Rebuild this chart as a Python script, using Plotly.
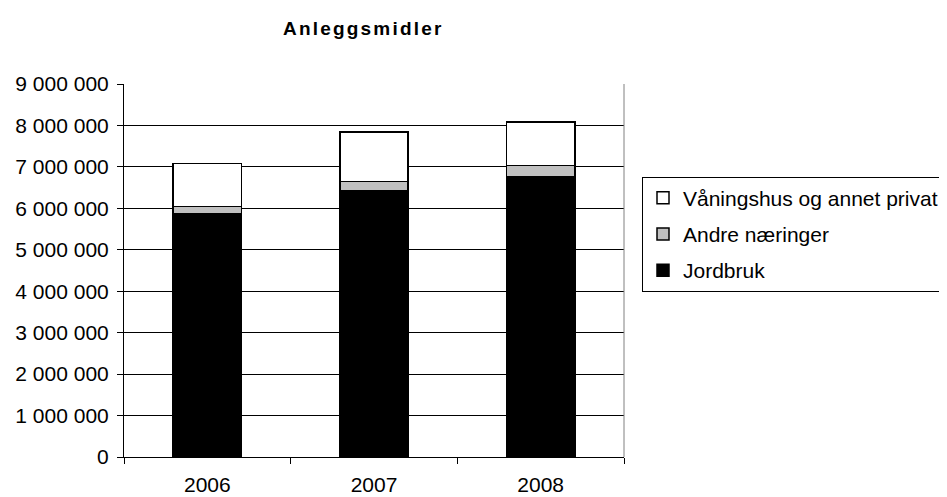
import plotly.graph_objects as go

years = ["2006", "2007", "2008"]
jordbruk = [5870000, 6420000, 6760000]
andre_naeringer = [180000, 230000, 270000]
vaningshus = [1030000, 1190000, 1050000]
y_ticks = [0, 1000000, 2000000, 3000000, 4000000, 5000000, 6000000, 7000000, 8000000, 9000000]

FONT = "Liberation Sans, Arial, sans-serif"

fig = go.Figure()
fig.add_trace(go.Bar(x=years, y=jordbruk, name="Jordbruk", legendgroup="c", legendrank=3,
                     marker=dict(color="#000000", line=dict(color="#000000", width=1.5))))
fig.add_trace(go.Bar(x=years, y=andre_naeringer, name="Andre næringer", legendgroup="b", legendrank=2,
                     marker=dict(color="#c0c0c0", line=dict(color="#000000", width=1.5))))
fig.add_trace(go.Bar(x=years, y=vaningshus, name="Våningshus og annet privat", legendgroup="a", legendrank=1,
                     marker=dict(color="#ffffff", line=dict(color="#000000", width=1.5))))

fig.update_layout(
    width=947, height=497,
    barmode="stack", bargap=0.59,
    paper_bgcolor="white", plot_bgcolor="white",
    separators=", ",
    font=dict(family=FONT, size=21, color="black"),
    margin=dict(l=116, r=331, t=76, b=48, autoexpand=False),
    showlegend=True,
    legend=dict(
        x=1.036, xanchor="left", y=0.752, yanchor="top",
        bordercolor="black", borderwidth=1, bgcolor="white",
        traceorder="grouped", tracegroupgap=6,
        font=dict(family=FONT, size=21, color="black"),
        itemwidth=30,
    ),
    xaxis=dict(
        showline=True, linecolor="black", linewidth=1,
        ticks="outside", ticklen=6, tickcolor="black", tickson="boundaries",
        showgrid=False, tickfont=dict(size=21), ticklabelstandoff=9,
    ),
    yaxis=dict(
        range=[0, 9000000], tickvals=y_ticks, tickformat=",d",
        showline=True, linecolor="black", linewidth=1,
        ticks="outside", ticklen=6, tickcolor="black",
        showgrid=True, gridcolor="black", gridwidth=1,
        zeroline=False, tickfont=dict(size=21), ticklabelstandoff=4,
    ),
    annotations=[dict(
        text="<b><span style=\"letter-spacing:2.2px\">Anleggsmidler</span></b>",
        xref="paper", yref="paper",
        x=0.478, y=1.15, xanchor="center", yanchor="middle", showarrow=False,
        font=dict(family=FONT, size=19, color="black"),
    )],
    shapes=[dict(type="line", xref="paper", yref="paper", x0=1, x1=1, y0=0, y1=1,
                 line=dict(color="#808080", width=1))],
)

fig.write_html("out.html")
